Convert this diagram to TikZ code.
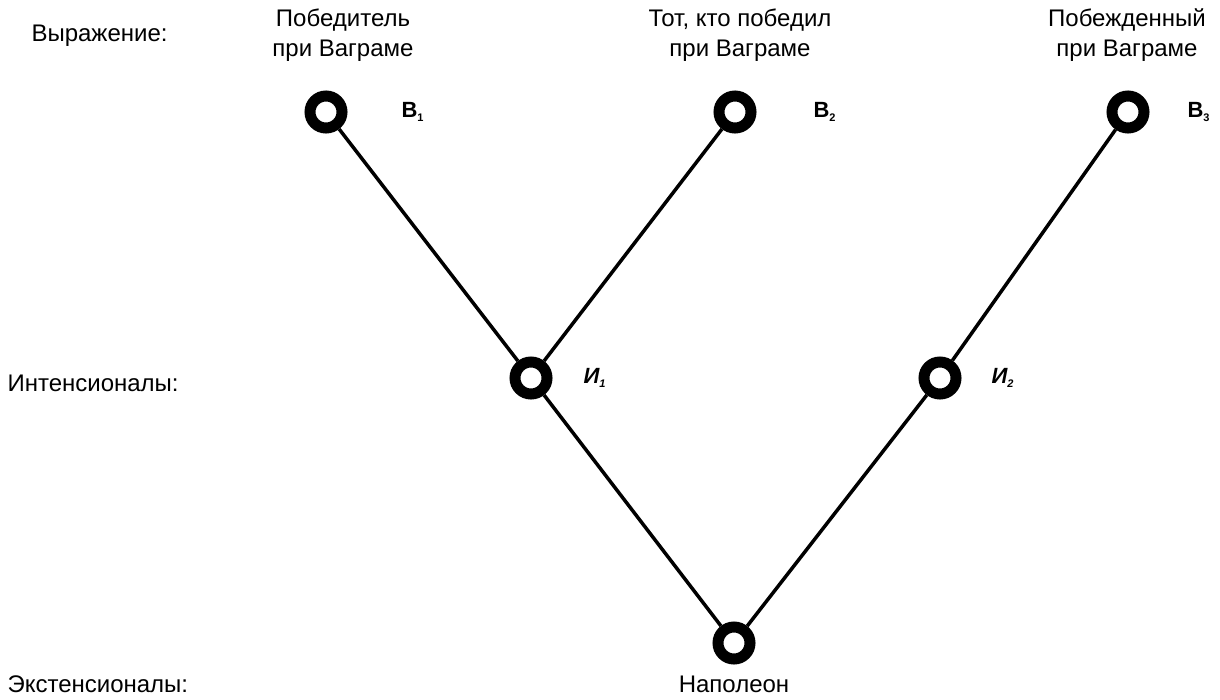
\documentclass[tikz,border=0pt]{standalone}
\usepackage{fontspec}
\setmainfont{Liberation Sans}
\usetikzlibrary{positioning}

\newcommand{\lowidx}[1]{\raisebox{-0.35ex}{\fontsize{11}{12}\selectfont #1}}

\begin{document}
\begin{tikzpicture}[x=1pt,y=-1pt,font=\fontsize{24}{30}\selectfont]
  \tikzstyle{point}=[circle,draw,line width=11pt,minimum size=32pt,inner sep=0pt]
  \tikzstyle{mark label}=[font=\fontsize{22}{24}\selectfont\bfseries,anchor=west]
  \tikzstyle{row label}=[anchor=west]
  \tikzstyle{phrase}=[align=center,anchor=center]
  \tikzstyle{link}=[line width=3.5pt]

  \useasboundingbox (0,0) rectangle (1220,699);

  % levels
  \node [row label] (lexpr) at (28,36) {Выражение:};
  \node [row label] (lint) at (4,383) {Интенсионалы:};
  \node [row label] (lext) at (4,684) {Экстенсионалы:};

  % expressions
  \node [phrase] (t1) at (343,35) {Победитель\\при Ваграме};
  \node [phrase] (t2) at (740,35) {Тот, кто победил\\при Ваграме};
  \node [phrase] (t3) at (1127,35) {Побежденный\\при Ваграме};

  \node [point] (v1) at (326,112) {};
  \node [point] (v2) at (735,112) {};
  \node [point] (v3) at (1128,112) {};
  \node [mark label] (lv1) at (398,112) {В\lowidx{1}};
  \node [mark label] (lv2) at (810,112) {В\lowidx{2}};
  \node [mark label] (lv3) at (1184,112) {В\lowidx{3}};

  % intensions
  \node [point] (i1) at (531,378) {};
  \node [point] (i2) at (940,378) {};
  \node [mark label] (li1) at (580,378) {\itshape И\lowidx{1}};
  \node [mark label] (li2) at (988,378) {\itshape И\lowidx{2}};

  % extension
  \node [point] (n) at (734,643) {};
  \node (ln) at (734,684) {Наполеон};

  \draw [link] (v1) -- (i1);
  \draw [link] (v2) -- (i1);
  \draw [link] (v3) -- (i2);
  \draw [link] (i1) -- (n);
  \draw [link] (i2) -- (n);
\end{tikzpicture}
\end{document}
